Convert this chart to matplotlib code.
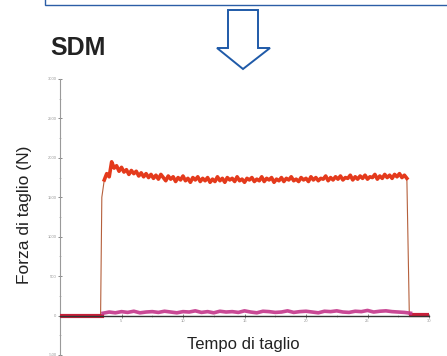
import numpy as np
import matplotlib.pyplot as plt
from matplotlib.patches import Polygon, Rectangle
from matplotlib.ticker import MultipleLocator

plt.rcParams['font.family'] = ['Liberation Sans', 'DejaVu Sans']

# cutting force (red), force (N) sampled every 0.2 s from 3.6 s to 28.2 s,
# read off the picture
red_t = np.round(np.arange(3.6, 28.21, 0.2), 1)
red_f = [1720, 1800, 1760, 1950, 1870, 1900, 1830, 1880, 1820, 1850, 1790, 1840,
         1800, 1830, 1770, 1810, 1760, 1800, 1750, 1790, 1740, 1780, 1730, 1790,
         1750, 1710, 1770, 1730, 1760, 1700, 1750, 1720, 1770, 1710, 1740, 1690,
         1750, 1720, 1760, 1700, 1740, 1710, 1750, 1690, 1730, 1700, 1760, 1710,
         1740, 1690, 1750, 1720, 1740, 1700, 1760, 1710, 1730, 1690, 1740, 1720,
         1750, 1700, 1730, 1710, 1760, 1700, 1740, 1720, 1750, 1690, 1730, 1710,
         1750, 1700, 1740, 1720, 1760, 1710, 1730, 1700, 1750, 1720, 1740, 1700,
         1760, 1720, 1750, 1710, 1740, 1730, 1770, 1710, 1750, 1720, 1760, 1730,
         1770, 1720, 1750, 1740, 1780, 1720, 1760, 1730, 1770, 1740, 1780, 1730,
         1760, 1750, 1790, 1730, 1770, 1740, 1790, 1750, 1780, 1740, 1790, 1760,
         1800, 1750, 1780, 1740]

# edges of the cut: rise and drop of the red trace
rise_t = [0, 3.3, 3.4, 3.6]
rise_f = [0, 0, 1500, 1720]
drop_t = [28.2, 28.4, 28.6, 30.0]
drop_f = [1740, 10, 0, 0]

# second trace (magenta), close to zero, every 0.5 s from 3.5 s to 28.5 s
mag_t = np.round(np.arange(3.5, 28.51, 0.5), 1)
mag_f = [30, 45, 35, 50, 40, 55, 35, 45, 50, 40, 55, 45, 35, 50, 45, 60, 40,
         50, 35, 55, 45, 50, 40, 60, 45, 35, 55, 50, 40, 45, 60, 40, 50, 55,
         45, 35, 55, 50, 60, 45, 40, 55, 50, 65, 45, 55, 60, 50, 45, 40, 30]

y_ticks = [-500, 0, 500, 1000, 1500, 2000, 2500, 3000]
x_ticks = [5, 10, 15, 20, 25, 30]

fig = plt.figure(figsize=(4.47, 3.56), dpi=100)

# frame of the box above, hollow arrow and texts (figure pixel coords)
ov = fig.add_axes([0, 0, 1, 1])
ov.set_xlim(0, 447)
ov.set_ylim(356, 0)
ov.axis('off')
ov.add_patch(Rectangle((45, -20), 500, 25, fill=False, ec='#2c5ea6', lw=1.0))
arrow = [(228, 10), (258, 10), (258, 48), (270, 48), (243, 69),
         (217, 48), (228, 48)]
ov.add_patch(Polygon(arrow, closed=True, fill=False, ec='#1f5aa8', lw=1.4))
ov.text(50, 48, 'SDM', fontsize=18, fontweight='bold', color='#222222',
        va='center', ha='left')
ov.text(25, 215, 'Forza di taglio (N)', fontsize=12.5, rotation=90,
        ha='center', va='center', color='#222222')
ov.text(243, 345, 'Tempo di taglio', fontsize=12, ha='center', va='center',
        color='#222222')

ax = fig.add_axes([60 / 447, 1 / 356, 369 / 447, 276 / 356])
ax.patch.set_alpha(0)
ax.set_xlim(0, 30)
ax.set_ylim(-500, 3000)

ax.plot(rise_t, rise_f, color='#b5603c', lw=0.8, zorder=2)
ax.plot(drop_t, drop_f, color='#b5603c', lw=0.8, zorder=2)
ax.plot(red_t, red_f, color='#e43a1c', lw=2.6, zorder=3)
ax.plot([0, 3.4], [0, 0], color='#c8203a', lw=3, zorder=3)
ax.plot([28.5, 30], [10, 10], color='#c8203a', lw=3, zorder=3)
ax.plot(mag_t, mag_f, color='#c4358a', lw=2.6, alpha=0.9, zorder=3)

for s in ['top', 'right']:
    ax.spines[s].set_visible(False)
ax.spines['left'].set_color('#9a9a9a')
ax.spines['left'].set_linewidth(0.8)
ax.spines['bottom'].set_position(('data', 0))
ax.spines['bottom'].set_color('#333333')
ax.spines['bottom'].set_linewidth(1.0)
ax.spines['bottom'].set_zorder(4)

ax.set_yticks(y_ticks)
ax.set_yticklabels([str(v) for v in y_ticks])
ax.set_xticks(x_ticks)
ax.set_xticklabels([str(v) for v in x_ticks])
ax.yaxis.set_minor_locator(MultipleLocator(250))
ax.xaxis.set_minor_locator(MultipleLocator(2.5))
ax.tick_params(axis='both', which='major', length=3, width=0.7, direction='inout',
               colors='#888888', labelsize=3, labelcolor='#999999', pad=1)
ax.tick_params(axis='both', which='minor', length=2, width=0.5, direction='inout',
               colors='#aaaaaa')

fig.savefig('out.png', dpi=100)
